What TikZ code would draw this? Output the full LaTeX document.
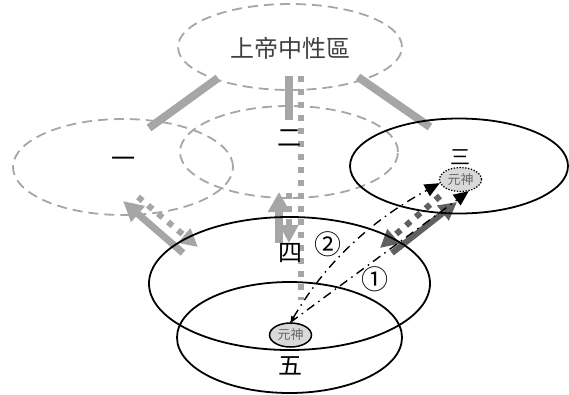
\documentclass[tikz,border=0pt]{standalone}
\usepackage{fontspec}
\usetikzlibrary{arrows.meta,shapes.geometric}
\newfontfamily\cjk{Noto Sans CJK TC}
\definecolor{lightgr}{HTML}{A6A6A6}
\definecolor{darkgr}{HTML}{606060}
\definecolor{soulfill}{HTML}{D9D9D9}

\begin{document}
\begin{tikzpicture}[x=1pt,y=-1pt,
    realm/.style={ellipse, draw=lightgr, line width=1.8pt, dash pattern=on 10pt off 6pt, inner sep=0pt},
    world/.style={ellipse, draw=black, line width=1.8pt, inner sep=0pt},
    soul/.style={ellipse, fill=soulfill, draw=black, inner sep=0pt, minimum width=42pt, minimum height=24pt, text=black!60, font=\cjk\fontsize{13}{13}\selectfont},
    num/.style={font=\cjk\fontsize{24}{24}\selectfont, inner sep=0pt},
    bar/.style={lightgr, line width=8pt},
    graydots/.style={line width=6pt, dash pattern=on 6pt off 7pt},
    route/.style={black, line width=1.4pt, dash pattern=on 9pt off 5pt on 1.5pt off 5pt}]

    \useasboundingbox (0,0) rectangle (569,394);

    \node[realm, minimum width=224pt, minimum height=86pt] (god) at (290,47) {};
    \node[realm, minimum width=220pt, minimum height=96pt] (one) at (123,167) {};
    \node[realm, minimum width=218pt, minimum height=92pt] (two) at (289,152) {};

    \coordinate (godl) at (218,78);
    \coordinate (onet) at (149,128);
    \coordinate (godr) at (358,77);
    \coordinate (threet) at (430,127);
    \coordinate (godm) at (289,76);
    \coordinate (twot) at (289,120);
    \coordinate (godd) at (301,76);
    \coordinate (fived) at (301,300);

    \draw[bar] (godl) -- (onet);
    \draw[bar] (godr) -- (threet);
    \draw[bar] (godm) -- (twot);
    \draw[graydots, lightgr] (godd) -- (fived);

    % one <-> four
    \coordinate (fourl) at (183,253);
    \coordinate (oneb) at (123,201);
    \coordinate (oned) at (138,197);
    \coordinate (fourld) at (198,247);
    \draw[lightgr, line width=7pt, -{Triangle[length=20pt,width=20pt]}] (fourl) -- (oneb);
    \draw[graydots, lightgr, -{Triangle[length=18pt,width=18pt]}] (oned) -- (fourld);

    % two <-> four
    \coordinate (fourm) at (279,243);
    \coordinate (twob) at (279,192);
    \coordinate (twod) at (289,193);
    \coordinate (fourmd) at (289,243);
    \draw[lightgr, line width=8pt, -{Triangle[length=20pt,width=21pt]}] (fourm) -- (twob);
    \draw[graydots, lightgr, -{Triangle[length=18pt,width=18pt]}] (twod) -- (fourmd);

    % three <-> four
    \coordinate (fourr) at (392,253);
    \coordinate (threeb) at (457,202);
    \coordinate (threed) at (440,196);
    \coordinate (fourrd) at (380,248);
    \draw[darkgr, line width=6pt, -{Triangle[length=18pt,width=18pt]}] (fourr) -- (threeb);
    \draw[graydots, darkgr, -{Triangle[length=18pt,width=18pt]}] (threed) -- (fourrd);

    \node[world, minimum width=218pt, minimum height=95pt] (three) at (459,166) {};
    \node[world, minimum width=281pt, minimum height=133pt] (four) at (289.5,283.5) {};
    \node[world, minimum width=225pt, minimum height=111pt] (five) at (289.5,337.5) {};

    \node[soul, line width=1.5pt] (soullow) at (290.5,335) {元神};
    \node[soul, line width=1.3pt, dash pattern=on 1.3pt off 1.6pt] (soulhigh) at (460.5,179.5) {元神};

    \draw[route, {Triangle[length=6pt,width=5pt]}-{Triangle[length=15pt,width=13pt]}] (soullow.north) .. controls (310,290) and (345,235) .. (soulhigh.190);
    \draw[route, -{Triangle[length=15pt,width=13pt]}] (soullow.north) -- (soulhigh.305);

    \node[font=\cjk\fontsize{24}{24}\selectfont, text=black!75] (godtxt) at (290,48) {上帝中性區};
    \node[num] (onetxt) at (123,162) {一};
    \node[num] (twotxt) at (289,138) {二};
    \node[num, font=\cjk\fontsize{20}{20}\selectfont] (threetxt) at (460,157) {三};
    \node[num] (fourtxt) at (290,253) {四};
    \node[num] (fivetxt) at (290,366) {五};

    \node[font=\cjk\fontsize{27}{27}\selectfont, inner sep=0pt] (mark2) at (328,244) {②};
    \node[font=\cjk\fontsize{27}{27}\selectfont, inner sep=0pt] (mark1) at (375,279) {①};

\end{tikzpicture}
\end{document}
